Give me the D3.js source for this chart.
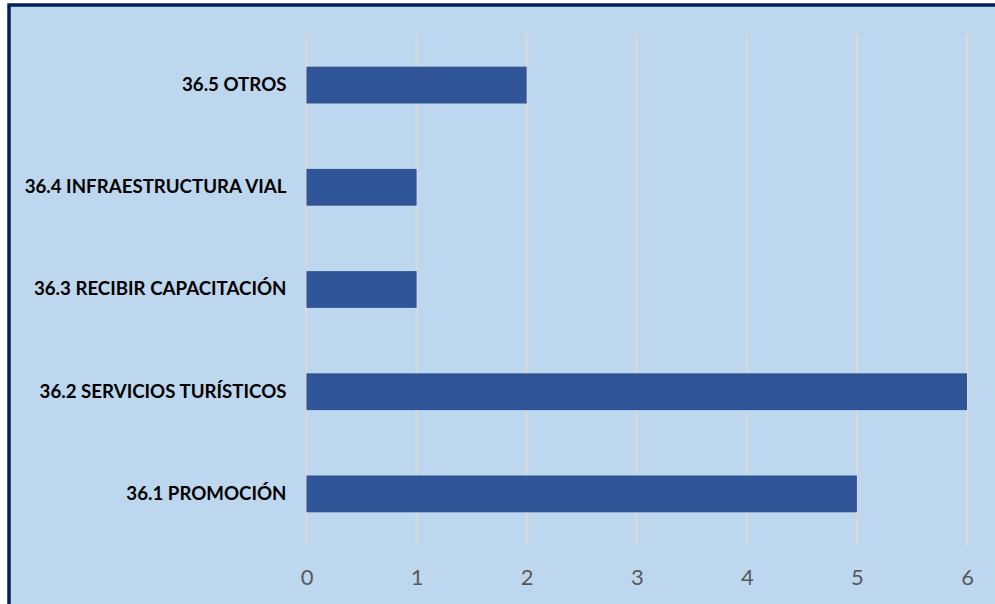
<!DOCTYPE html>
<html>
<head>
<meta charset="utf-8">
<script src="https://cdn.jsdelivr.net/npm/d3@7"></script>
<style>
  body { margin: 0; background: #ffffff; }
  svg { display: block; }
</style>
</head>
<body>
<div id="chart"></div>
<script>
  // categories from top to bottom
  const categories = [
    "36.5 OTROS",
    "36.4 INFRAESTRUCTURA VIAL",
    "36.3 RECIBIR CAPACITACIÓN",
    "36.2 SERVICIOS TURÍSTICOS",
    "36.1 PROMOCIÓN"
  ];
  const values = [2, 1, 1, 6, 5];
  const tickValues = [0, 1, 2, 3, 4, 5, 6];

  const width = 995, height = 604;
  const margin = { top: 34, right: 28, bottom: 59, left: 306.5 };

  const svg = d3.select("#chart").append("svg")
    .attr("width", width)
    .attr("height", height);

  // fond + bordure
  svg.append("rect")
    .attr("x", 9).attr("y", 5)
    .attr("width", width).attr("height", height)
    .attr("fill", "#BDD7EE")
    .attr("stroke", "#002060")
    .attr("stroke-width", 3.5);

  const x = d3.scaleLinear()
    .domain([0, 6])
    .range([margin.left, width - margin.right]);

  const y = d3.scaleBand()
    .domain(categories)
    .range([margin.top, height - margin.bottom])
    .paddingInner(0.64)
    .paddingOuter(0.32);

  // grille verticale
  svg.append("g")
    .selectAll("line")
    .data(tickValues)
    .enter()
    .append("line")
    .attr("x1", (d) => x(d))
    .attr("x2", (d) => x(d))
    .attr("y1", margin.top)
    .attr("y2", height - margin.bottom)
    .attr("stroke", "#D9D9D9")
    .attr("stroke-width", 2);

  // barres
  svg.append("g")
    .selectAll("rect")
    .data(values)
    .enter()
    .append("rect")
    .attr("x", x(0))
    .attr("y", (d, i) => y(categories[i]))
    .attr("width", (d) => x(d) - x(0))
    .attr("height", y.bandwidth())
    .attr("fill", "#2F5597");

  // axe x
  const xAxis = svg.append("g")
    .attr("transform", `translate(0,${height - margin.bottom})`)
    .call(d3.axisBottom(x).tickValues(tickValues).tickFormat(d3.format("d")).tickSize(0).tickPadding(24));
  xAxis.select(".domain").remove();
  xAxis.selectAll("text")
    .attr("fill", "#595959")
    .style("font-family", "Lato, 'Open Sans', sans-serif")
    .style("font-size", "22px");

  // axe y
  const yAxis = svg.append("g")
    .attr("transform", `translate(${margin.left},0)`)
    .call(d3.axisLeft(y).tickSize(0).tickPadding(20));
  yAxis.select(".domain").remove();
  yAxis.selectAll("text")
    .attr("fill", "#000000")
    .style("font-family", "Lato, 'Open Sans', sans-serif")
    .style("font-weight", "bold")
    .style("font-size", "18.7px");
</script>
</body>
</html>
